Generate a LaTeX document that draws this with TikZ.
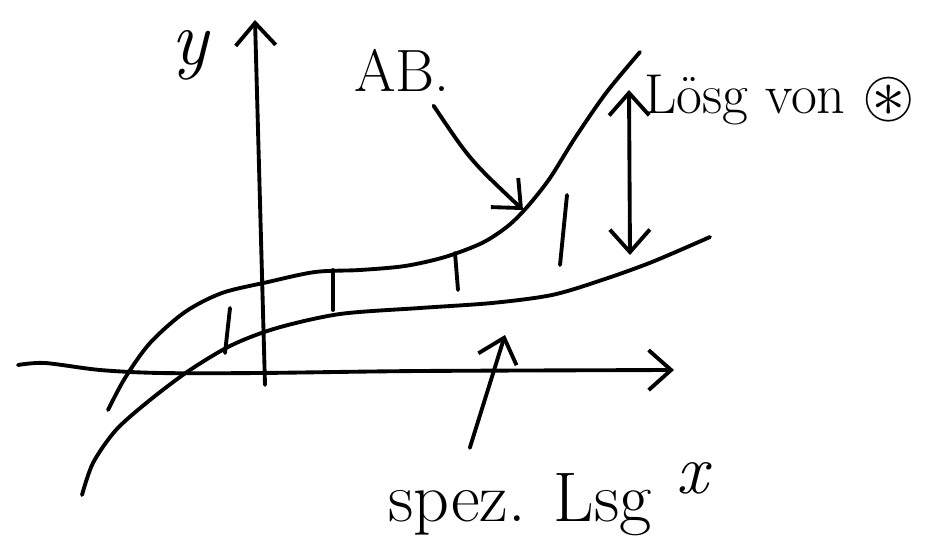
\documentclass[tikz,border=0pt]{standalone}
\usepackage{amssymb}
\usetikzlibrary{arrows.meta}
\tikzset{sk/.style={line width=2.2pt,line cap=round,line join=round},
  barb/.style={-{Straight Barb[length=4.5mm,width=8mm]}},
  lab/.style={inner sep=1pt,font=\fontsize{34}{36}\selectfont}}
\begin{document}
\begin{tikzpicture}[x=0.02cm,y=-0.02cm]
    \useasboundingbox (0,0) rectangle (936,550);
    % axes
    \coordinate (xa) at (18,365); \coordinate (xe) at (674,370);
    \coordinate (ya) at (265,385); \coordinate (ye) at (255,20);
    \draw[sk,barb] plot[smooth] coordinates {(xa) (45,363) (100,370)
      (160,373) (260,373) (420,371) (xe)};
    \draw[sk,barb] (ya) -- (ye);
    % upper curve (AB) and lower curve (spez. Lsg)
    \draw[sk] plot[smooth] coordinates {(108,410) (125,378) (150,343)
      (185,312) (222,293) (268,282) (315,272) (360,270) (405,266)
      (445,257) (482,243) (508,226) (528,206) (550,178) (575,138)
      (606,93) (640,52)};
    \draw[sk] plot[smooth] coordinates {(82,495) (93,463) (116,430)
      (150,400) (190,370) (232,345) (277,328) (340,314) (420,308)
      (492,303) (552,295) (602,280) (652,262) (710,237)};
    \coordinate (abpt) at (523,210); \coordinate (spt) at (505,335);
    \coordinate (top) at (629,90); \coordinate (bot) at (630,255);
    \foreach \a/\b in {{(230,308)}/{(225,353)},{(333,270)}/{(333,310)},
      {(455,253)}/{(458,290)},{(567,195)}/{(560,265)}} {
      \draw[sk] \a -- \b; }
    \draw[sk,{Straight Barb[length=4.5mm,width=8mm]}-{Straight
      Barb[length=4.5mm,width=8mm]}] (top) -- (bot);
    % labels
    \node[lab,font=\fontsize{44}{46}\selectfont\itshape] (ylab) at (190,55) {y};
    \node[lab] (ab) at (402,70) {AB.};
    \node[lab,anchor=west,font=\fontsize{32}{34}\selectfont] (loesg)
      at (642,100) {Lösg von \raisebox{-2pt}{\scalebox{1.2}{$\circledast$}}};
    \node[lab,font=\fontsize{40}{42}\selectfont] (spez) at (520,505)
      {spez. Lsg};
    \node[lab,font=\fontsize{40}{42}\selectfont\itshape] (xlab) at (692,478) {x};
    \draw[sk,barb,shorten <=0.3cm] (ab.-45) .. controls (470,160) .. (abpt);
    \draw[sk,barb,shorten <=0.5cm] (spez.150) -- (spt);
  \end{tikzpicture}
\end{document}
